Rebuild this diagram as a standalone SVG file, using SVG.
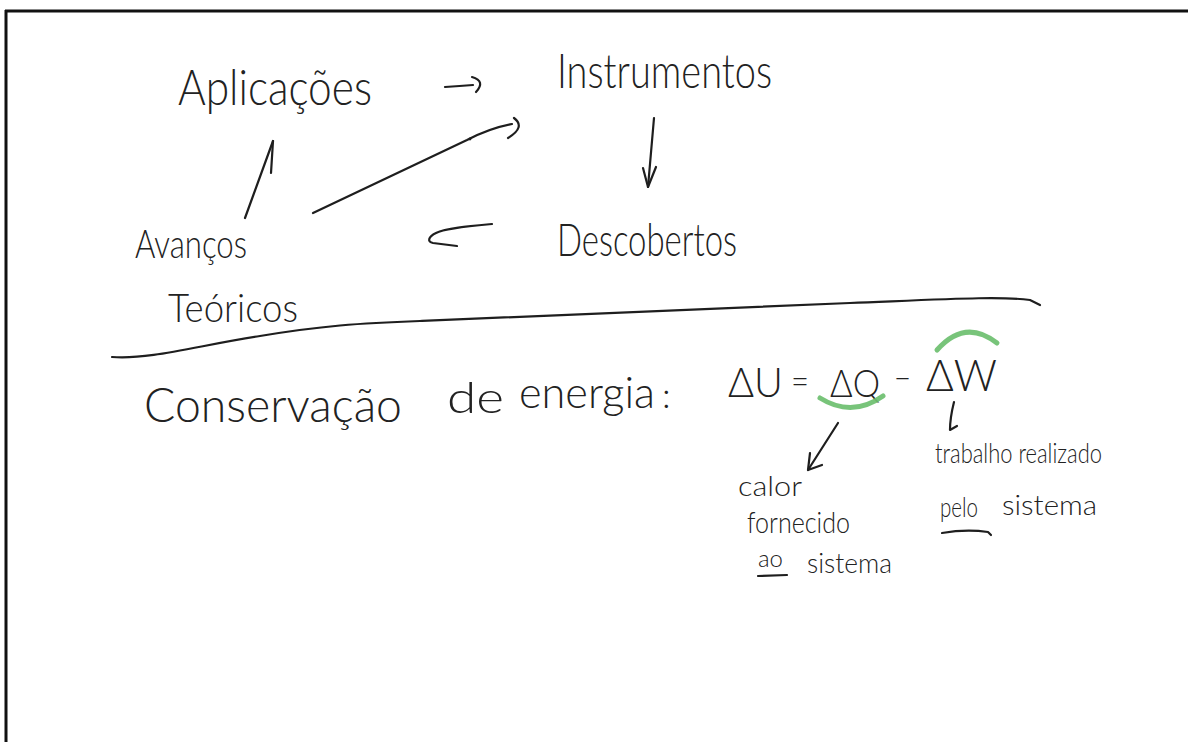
<svg xmlns="http://www.w3.org/2000/svg" width="1188" height="742" viewBox="0 0 1188 742">
<style>
  .hw { font-family: Lato, "Open Sans", "DejaVu Sans", sans-serif; font-weight: 300; fill: #222; }
  .ink { fill: none; stroke: #1e1e1e; stroke-width: 2.2; stroke-linecap: round; stroke-linejoin: round; }
  .green { fill: none; stroke: #6dbf6f; stroke-width: 5; stroke-linecap: round; opacity: 0.92; }
  .frame { fill: none; stroke: #111; stroke-width: 3; }
</style>
<rect width="1188" height="742" fill="#ffffff"/>
<g id="frame">
  <line class="frame" x1="5" y1="11" x2="1188" y2="11"/>
  <line class="frame" x1="6" y1="10" x2="6" y2="742"/>
</g>

<g id="node-aplicacoes">
  <text class="hw" x="178" y="105" font-size="50" textLength="194" lengthAdjust="spacingAndGlyphs">Aplicações</text>
</g>
<g id="node-instrumentos">
  <text class="hw" x="557" y="88" font-size="48" textLength="215" lengthAdjust="spacingAndGlyphs">Instrumentos</text>
</g>
<g id="node-descobertos">
  <text class="hw" x="557" y="256" font-size="46" textLength="180" lengthAdjust="spacingAndGlyphs">Descobertos</text>
</g>
<g id="node-avancos">
  <text class="hw" x="135" y="258" font-size="40" textLength="112" lengthAdjust="spacingAndGlyphs">Avanços</text>
</g>
<g id="node-teoricos">
  <text class="hw" x="168" y="322" font-size="40" textLength="130" lengthAdjust="spacingAndGlyphs">Teóricos</text>
</g>

<g id="connectors">
  <!-- Aplicações -> Instrumentos -->
  <path class="ink" d="M445,87 Q460,86 473,85"/>
  <path class="ink" d="M472,77 Q486,81 476,92"/>
  <!-- Instrumentos -> Descobertos -->
  <path class="ink" d="M654,118 L648,187"/>
  <path class="ink" d="M643,168 L648,187 L656,167"/>
  <!-- Descobertos -> Avanços -->
  <path class="ink" d="M492,224 C470,226 446,228 436,233 C428,237 427,242 433,243 L457,246"/>
  <!-- Avanços -> Aplicações -->
  <path class="ink" d="M245,218 L273,141"/>
  <path class="ink" d="M273,141 L271,173"/>
  <!-- Avanços -> Instrumentos -->
  <path class="ink" d="M313,213 L467,140 Q490,128 512,124"/>
  <path class="ink" d="M514,118 Q526,127 508,138"/>
  <circle cx="470" cy="139" r="1.4" fill="#1e1e1e"/>
</g>

<g id="separator">
  <path class="ink" d="M112,357 C150,360 200,345 260,336 C320,326 360,323 420,321 C560,314 700,308 850,303 C950,299 1000,296 1030,300 L1040,305"/>
</g>

<g id="node-conservacao">
  <text class="hw" x="144" y="422" font-size="48" textLength="258" lengthAdjust="spacingAndGlyphs">Conservação</text>
  <text class="hw" x="447" y="413" font-size="44" textLength="57" lengthAdjust="spacingAndGlyphs">de</text>
  <text class="hw" x="519" y="408" font-size="44" textLength="136" lengthAdjust="spacingAndGlyphs">energia</text>
  <text class="hw" x="662" y="408" font-size="36">:</text>
</g>

<g id="node-equacao">
  <text class="hw" x="728" y="397" font-size="42" textLength="55" lengthAdjust="spacingAndGlyphs">ΔU</text>
  <text class="hw" x="791" y="394" font-size="36" textLength="18" lengthAdjust="spacingAndGlyphs">=</text>
  <text class="hw" x="830" y="397" font-size="38" textLength="50" lengthAdjust="spacingAndGlyphs">ΔQ</text>
  <text class="hw" x="894" y="391" font-size="36" textLength="17" lengthAdjust="spacingAndGlyphs">−</text>
  <text class="hw" x="926" y="391" font-size="44" textLength="71" lengthAdjust="spacingAndGlyphs">ΔW</text>
  <path class="green" d="M820,398 Q852,418 883,396"/>
  <path class="green" d="M937,350 Q965,318 997,343"/>
</g>

<g id="connectors-equacao">
  <path class="ink" d="M838,423 L808,470"/>
  <path class="ink" d="M810,453 L808,470 L822,465"/>
  <path class="ink" d="M954,402 Q950,418 950,430 L957,426"/>
</g>

<g id="node-calor">
  <text class="hw" x="738" y="496" font-size="28" textLength="64" lengthAdjust="spacingAndGlyphs">calor</text>
  <text class="hw" x="747" y="533" font-size="30" textLength="103" lengthAdjust="spacingAndGlyphs">fornecido</text>
  <text class="hw" x="758" y="567" font-size="24" textLength="25" lengthAdjust="spacingAndGlyphs">ao</text>
  <text class="hw" x="807" y="573" font-size="28" textLength="85" lengthAdjust="spacingAndGlyphs">sistema</text>
  <path class="ink" d="M758,576 L787,575"/>
</g>

<g id="node-trabalho">
  <text class="hw" x="935" y="463" font-size="28" textLength="167" lengthAdjust="spacingAndGlyphs">trabalho realizado</text>
  <text class="hw" x="940" y="517" font-size="28" textLength="38" lengthAdjust="spacingAndGlyphs">pelo</text>
  <text class="hw" x="1002" y="515" font-size="28" textLength="95" lengthAdjust="spacingAndGlyphs">sistema</text>
  <path class="ink" d="M942,533 Q966,529 988,532 L991,535"/>
</g>
</svg>
